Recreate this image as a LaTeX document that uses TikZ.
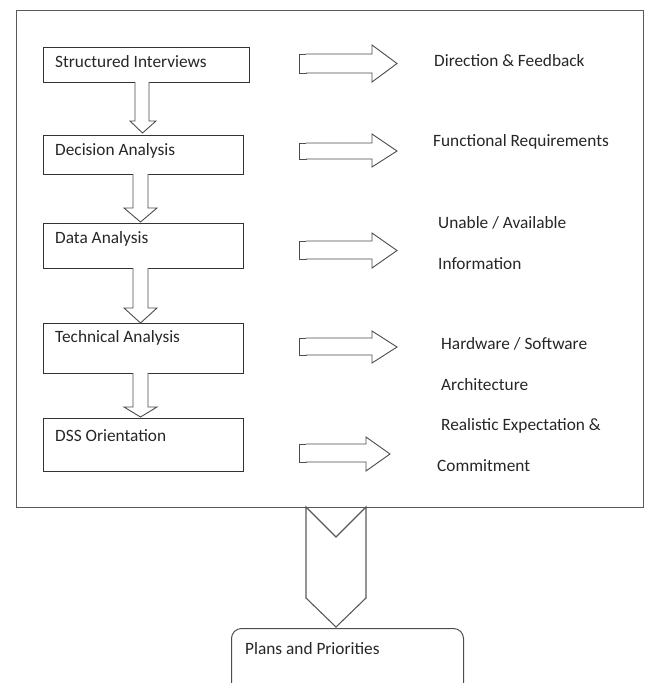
\documentclass[tikz,border=0pt]{standalone}
\usepackage{fontspec}
\setmainfont{Carlito}
\begin{document}
\begin{tikzpicture}[x=1pt,y=-1pt,
  frame/.style={draw=black!65,line width=1pt},
  box/.style={draw=black!80,line width=1pt,anchor=north west,inner sep=0pt},
  lbl/.style={anchor=west,inner sep=0pt,text=black!85,font=\fontsize{17.3}{19}\selectfont},
  blk/.style={draw=black!70,line width=0.9pt,fill=white,line join=miter},
  big/.style={draw=black!65,line width=1.1pt,line join=miter}]
\useasboundingbox (0,0) rectangle (649,683);
% outer frame
\node[frame,anchor=north west,inner sep=0pt,minimum width=627pt,minimum height=497pt] (frame) at (16,10) {};
% left boxes
\node[box,minimum width=206pt,minimum height=35pt] (b1) at (43,47) {};
\node[box,minimum width=200pt,minimum height=39pt] (b2) at (43,135) {};
\node[box,minimum width=200pt,minimum height=45pt] (b3) at (43,223) {};
\node[box,minimum width=200pt,minimum height=50pt] (b4) at (43,323) {};
\node[box,minimum width=200pt,minimum height=53pt] (b5) at (43,418) {};
\node[lbl] (t1) at (55,62) {Structured Interviews};
\node[lbl] (t2) at (55,151) {Decision Analysis};
\node[lbl] (t3) at (55,239) {Data Analysis};
\node[lbl] (t4) at (55,338) {Technical Analysis};
\node[lbl] (t5) at (55,436) {DSS Orientation};
% down block arrows
\draw[blk] (135,82) -- (135,121) -- (130,121) -- (142.5,133) -- (156,121) -- (149,121) -- (149,82);
\draw[blk] (133,174) -- (133,208) -- (124,208) -- (140.5,222) -- (157,208) -- (148,208) -- (148,174);
\draw[blk] (133,268) -- (133,308) -- (124,308) -- (140.5,323) -- (157,308) -- (148,308) -- (148,268);
\draw[blk] (133,373) -- (133,407) -- (124,407) -- (140.5,417) -- (157,407) -- (148,407) -- (148,373);
% right block arrows
\foreach \a/\b/\c/\d/\m/\h/\t in {54/73/45/82/63.5/372/397, 143/159/134/167/151/372/397, 241/259/233/268/250.5/372/397, 338/355/331/363/347/372/397, 444/462/437/471/454/366/390}{
  \draw[blk] (299,\a) rectangle (306,\b);
  \draw[blk] (306,\a) -- (\h,\a) -- (\h,\c) -- (\t,\m) -- (\h,\d) -- (\h,\b) -- (306,\b);
}
% right texts
\node[lbl] (r1) at (434,61) {Direction \& Feedback};
\node[lbl] (r2) at (433,142) {Functional Requirements};
\node[lbl] (r3a) at (438,223) {Unable / Available};
\node[lbl] (r3b) at (438,264) {Information};
\node[lbl] (r4a) at (441,344) {Hardware / Software};
\node[lbl] (r4b) at (441,385) {Architecture};
\node[lbl] (r5a) at (441,426) {Realistic Expectation \&};
\node[lbl] (r5b) at (437,466) {Commitment};
% big chevron arrow
\draw[big] (306,507) -- (336,537) -- (366,507) -- (366,598) -- (336,627) -- (306,598) -- cycle;
% plans box
\node[box,draw=black!70,rounded corners=10pt,minimum width=232pt,minimum height=80pt] (plans) at (231,628) {};
\node[lbl] (tp) at (245,649) {Plans and Priorities};
\end{tikzpicture}
\end{document}
